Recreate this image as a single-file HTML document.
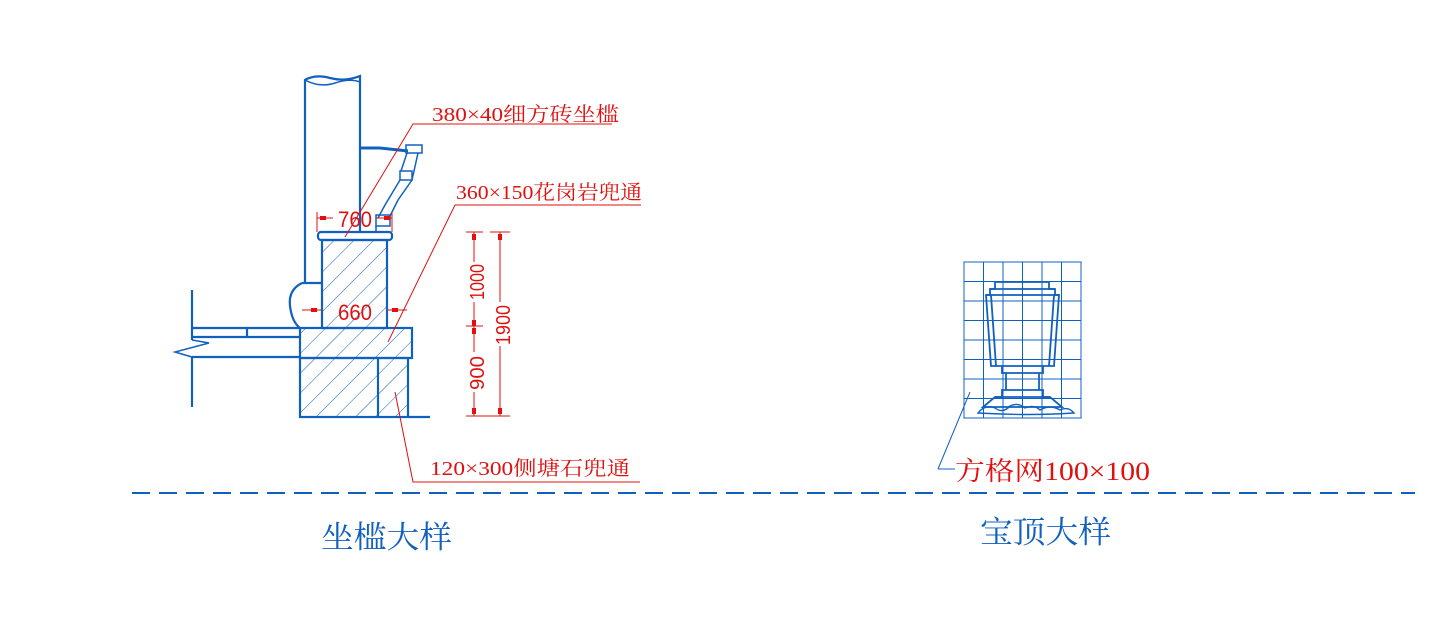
<!DOCTYPE html>
<html><head><meta charset="utf-8"><style>
html,body{margin:0;padding:0;background:#fff;}
svg{display:block;}
.r{font-family:"Liberation Serif","Noto Serif CJK SC",serif;fill:#e01010;}
.d{font-family:"Liberation Sans",sans-serif;fill:#e01010;}
</style></head><body>
<svg width="1448" height="620" viewBox="0 0 1448 620" xmlns="http://www.w3.org/2000/svg">
<defs>
<pattern id="h" patternUnits="userSpaceOnUse" width="14" height="14" patternTransform="rotate(45)">
<line x1="0" y1="0" x2="0" y2="14" stroke="#1060c0" stroke-width="1"/>
</pattern>
</defs>
<g fill="none" stroke="#1060c0" stroke-width="2.2">
<path d="M305,283 L305,80 Q315,74 330,78 Q345,82 360,76 L360,232"/>
<path d="M305,80 Q320,88 335,83 Q350,78 360,82" stroke-width="1.5"/>
<path d="M302,283 L322,283 M302,283 Q288,290 290,306 Q292,322 300,328"/>
<rect x="318" y="232" width="74" height="8" rx="3"/>
<rect x="322" y="240" width="65" height="88" fill="url(#h)"/>
<rect x="300" y="328" width="112" height="30" fill="url(#h)"/>
<rect x="300" y="358" width="108" height="59" fill="url(#h)"/>
<line x1="378" y1="358" x2="378" y2="417"/>
<line x1="408" y1="417" x2="430" y2="417"/>
<line x1="192" y1="328" x2="300" y2="328"/>
<line x1="192" y1="337" x2="300" y2="337"/>
<line x1="247" y1="328" x2="247" y2="337"/>
<line x1="192" y1="357" x2="300" y2="357"/>
<line x1="192" y1="290" x2="192" y2="340"/>
<line x1="192" y1="357" x2="192" y2="407"/>
<path d="M192,340 L209,343 L175,352 L192,357" stroke-width="1.5"/>
<path d="M360,148 L380,148 L408,151" stroke-width="3"/>
<rect x="406" y="145" width="16" height="8" stroke-width="1.5"/>
<rect x="400" y="171" width="12" height="9" stroke-width="1.5"/>
<path d="M407,153 L401,171 M418,153 L412,180 L398,200 L388,220 M400,180 L385,205 L378,218" stroke-width="1.5"/>
<rect x="376" y="215" width="14" height="11" stroke-width="1.5"/>
<line x1="376" y1="226" x2="376" y2="232" stroke-width="1.5"/>
<line x1="132" y1="493" x2="1415" y2="493" stroke-dasharray="18,9" stroke-width="2"/>
<g stroke-width="1">
<rect x="964" y="262" width="117" height="156"/>
<path d="M983.5,262V418M1003,262V418M1022.5,262V418M1042,262V418M1061.5,262V418M964,281.5H1081M964,301H1081M964,320.5H1081M964,340H1081M964,359.5H1081M964,379H1081M964,398.5H1081"/>
</g>
<g stroke-width="1.8">
<path d="M995,282H1049V289H1055V295H1059L1054,366H991L986,295H990V289H995Z"/>
<path d="M990,289H1055M986,295H1059"/>
<path d="M991,295L996,366M1054,295L1049,366"/>
<path d="M1002,366V373H1043V366M1006,373V390H1039V373M1002,390H1043V397H1050L1062,407H983L995,397H1002Z"/>
<path d="M995,397H1050"/>
<path d="M978,413Q985,404 995,408Q1003,414 1010,406Q1018,402 1025,408Q1034,404 1040,410Q1050,404 1060,410Q1068,406 1074,413Q1030,416 978,413Z" stroke-width="1.4"/>
</g>
<path d="M938,469 L970,392 M938,469 L955,469" stroke-width="1"/>
</g>
<g stroke="#e01010" stroke-width="1" fill="none">
<path d="M345,237 L413,124 L612,124"/>
<path d="M388,342 L455,205 L641,205"/>
<path d="M395,392 L413,482 L640,482"/>
<path d="M317,212 V232 M392,212 V232 M317,218 H333 M376,218 H392"/>
<path d="M302,310 H322 M387,310 H407"/>
<path d="M466,232H483 M490,232H510 M466,326H483 M466,416H510 M474,232V262 M474,302V352 M474,392V416 M500,232V302 M500,346V416"/>
</g>
<g fill="#e01010">
<rect x="320" y="216" width="6" height="4"/><rect x="384" y="216" width="6" height="4"/>
<rect x="311" y="308" width="6" height="4"/><rect x="392" y="308" width="6" height="4"/>
<rect x="472" y="234" width="4" height="6"/><rect x="498" y="234" width="4" height="6"/>
<rect x="472" y="320" width="4" height="6"/><rect x="472" y="328" width="4" height="6"/>
<rect x="472" y="408" width="4" height="6"/><rect x="498" y="408" width="4" height="6"/>
</g>
<text class="d" x="338" y="227" font-size="22" textLength="34" lengthAdjust="spacingAndGlyphs">760</text>
<text class="d" x="338" y="320" font-size="22" textLength="34" lengthAdjust="spacingAndGlyphs">660</text>
<text class="d" font-size="20" transform="translate(484,300) rotate(-90)" textLength="36" lengthAdjust="spacingAndGlyphs">1000</text>
<text class="d" font-size="20" transform="translate(484,390) rotate(-90)" textLength="34" lengthAdjust="spacingAndGlyphs">900</text>
<text class="d" font-size="20" transform="translate(510,345) rotate(-90)" textLength="40" lengthAdjust="spacingAndGlyphs">1900</text>
<text class="r" x="432" y="121" font-size="20" textLength="187" lengthAdjust="spacingAndGlyphs">380×40细方砖坐槛</text>
<text class="r" x="456" y="199" font-size="20" textLength="186" lengthAdjust="spacingAndGlyphs">360×150花岗岩兜通</text>
<text class="r" x="430" y="475" font-size="20" textLength="200" lengthAdjust="spacingAndGlyphs">120×300侧塘石兜通</text>
<text class="r" x="955" y="480" font-size="26" textLength="195" lengthAdjust="spacingAndGlyphs">方格网100×100</text>
<text x="321" y="548" font-size="31" fill="#1060c0" font-family="'Noto Serif CJK SC',serif" textLength="131" lengthAdjust="spacingAndGlyphs">坐槛大样</text>
<text x="980" y="543" font-size="31" fill="#1060c0" font-family="'Noto Serif CJK SC',serif" textLength="131" lengthAdjust="spacingAndGlyphs">宝顶大样</text>
</svg>
</body></html>
